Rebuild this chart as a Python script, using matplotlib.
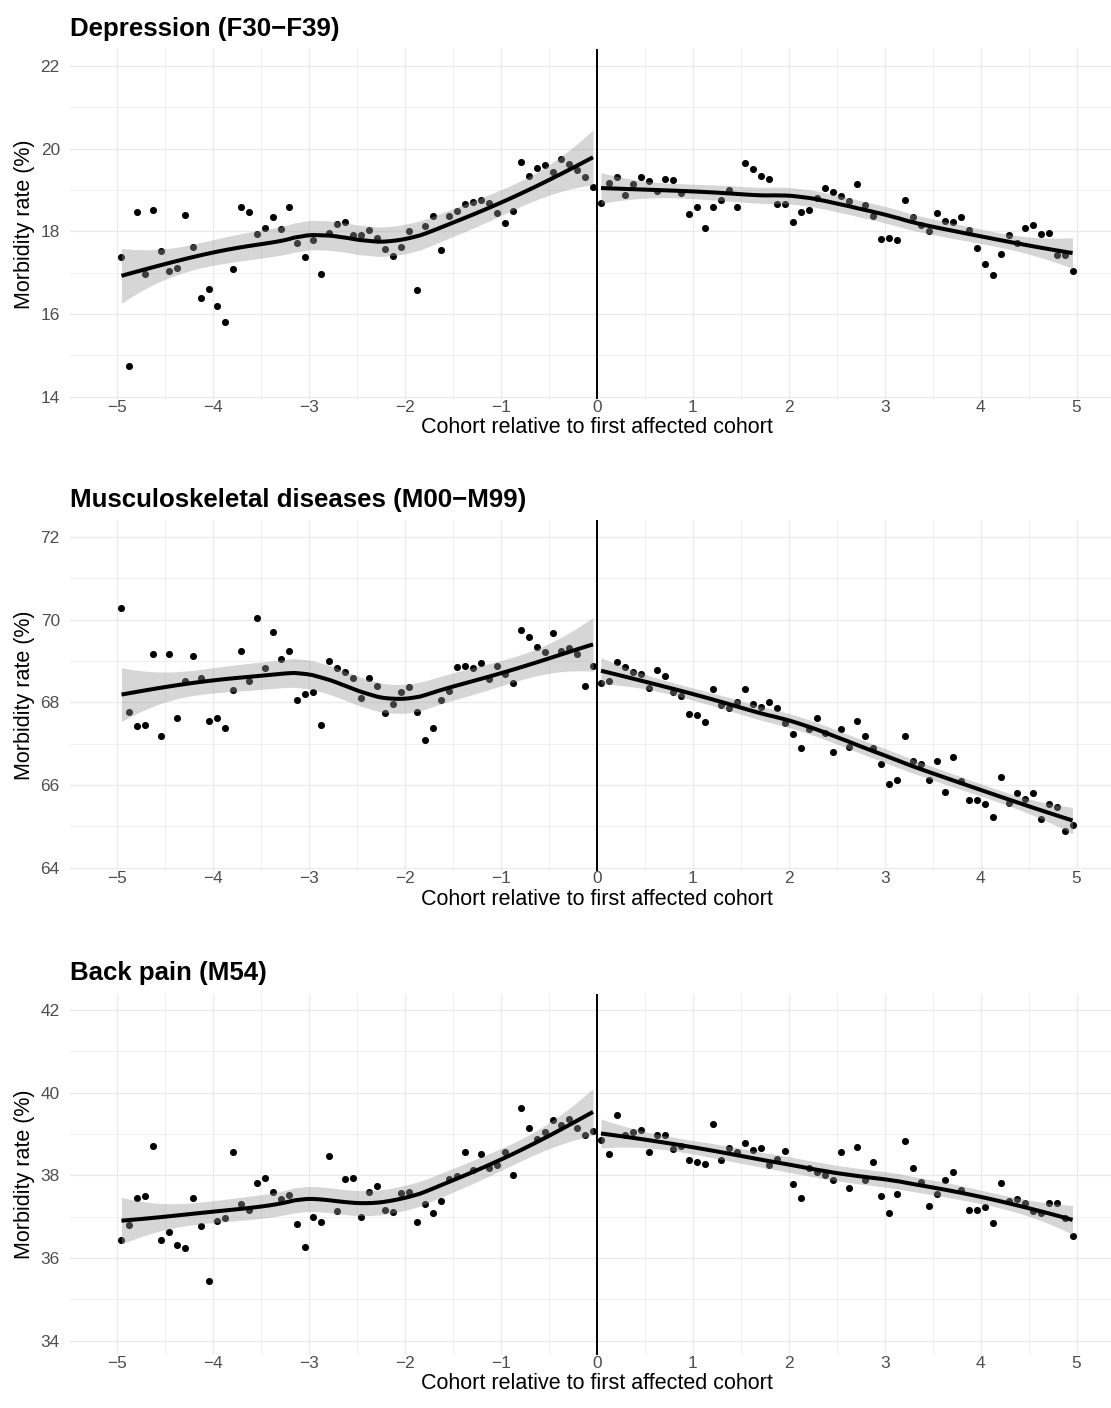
import numpy as np
import matplotlib
matplotlib.use("Agg")
import matplotlib.pyplot as plt

plt.rcParams['font.family'] = ['Liberation Sans', 'DejaVu Sans']

# cohort position (in years) of each monthly birth cohort, centred in its month
month_idx = np.arange(-60, 60)
cohort = (month_idx + 0.5) / 12

titles = ["Depression (F30\u2212F39)",
          "Musculoskeletal diseases (M00\u2212M99)",
          "Back pain (M54)"]

depression = [
    17.37, 14.74, 18.48, 16.97, 18.51, 17.52, 17.04, 17.12, 18.40, 17.62,
    16.40, 16.62, 16.19, 15.82, 17.10, 18.60, 18.48, 17.94, 18.09, 18.36,
    18.06, 18.60, 17.71, 17.38, 17.79, 16.98, 17.96, 18.17, 18.22, 17.91,
    17.92, 18.04, 17.84, 17.58, 17.40, 17.62, 18.01, 16.58, 18.12, 18.38,
    17.54, 18.37, 18.49, 18.67, 18.70, 18.75, 18.68, 18.44, 18.20, 18.50,
    19.68, 19.35, 19.53, 19.60, 19.43, 19.76, 19.64, 19.48, 19.31, 19.07,
    18.68, 19.17, 19.31, 18.87, 19.14, 19.31, 19.23, 18.98, 19.27, 19.25,
    18.92, 18.43, 18.58, 18.09, 18.58, 18.75, 19.01, 18.60, 19.65, 19.50,
    19.33, 19.28, 18.67, 18.67, 18.24, 18.46, 18.52, 18.80, 19.05, 18.96,
    18.85, 18.74, 19.14, 18.65, 18.38, 17.81, 17.84, 17.79, 18.77, 18.34,
    18.16, 18.02, 18.45, 18.25, 18.23, 18.34, 18.04, 17.60, 17.22, 16.95,
    17.46, 17.92, 17.73, 18.08, 18.15, 17.93, 17.96, 17.42, 17.43, 17.04,
]

musculoskeletal = [
    70.27, 67.77, 67.42, 67.46, 69.17, 67.18, 69.18, 67.62, 68.51, 69.11,
    68.58, 67.54, 67.63, 67.37, 68.29, 69.25, 68.51, 70.03, 68.82, 69.70,
    69.05, 69.24, 68.05, 68.19, 68.25, 67.46, 69.01, 68.84, 68.73, 68.59,
    68.10, 68.60, 68.40, 67.75, 67.97, 68.26, 68.36, 67.77, 67.08, 67.38,
    68.05, 68.27, 68.86, 68.89, 68.84, 68.96, 68.56, 68.89, 68.69, 68.47,
    69.76, 69.58, 69.34, 69.22, 69.68, 69.25, 69.32, 69.16, 68.39, 68.89,
    68.47, 68.52, 68.97, 68.85, 68.73, 68.68, 68.35, 68.79, 68.63, 68.25,
    68.16, 67.72, 67.69, 67.52, 68.32, 67.93, 67.87, 68.00, 68.33, 67.96,
    67.89, 68.02, 67.87, 67.49, 67.24, 66.89, 67.35, 67.62, 67.25, 66.79,
    67.35, 66.93, 67.55, 67.19, 66.89, 66.51, 66.03, 66.13, 67.18, 66.58,
    66.51, 66.13, 66.58, 65.84, 66.68, 66.09, 65.65, 65.63, 65.53, 65.22,
    66.20, 65.57, 65.80, 65.67, 65.81, 65.17, 65.55, 65.47, 64.89, 65.03,
]

back_pain = [
    36.45, 36.79, 37.46, 37.50, 38.70, 36.43, 36.64, 36.32, 36.25, 37.45,
    36.77, 35.44, 36.91, 36.96, 38.57, 37.31, 37.17, 37.81, 37.94, 37.60,
    37.43, 37.53, 36.82, 36.28, 36.99, 36.88, 38.47, 37.14, 37.91, 37.94,
    37.00, 37.60, 37.75, 37.17, 37.12, 37.58, 37.60, 36.88, 37.31, 37.09,
    37.38, 37.92, 37.98, 38.57, 38.12, 38.52, 38.19, 38.25, 38.56, 38.01,
    39.63, 39.15, 38.89, 39.05, 39.33, 39.23, 39.37, 39.15, 38.98, 39.08,
    38.86, 38.53, 39.47, 38.99, 39.06, 39.11, 38.57, 38.99, 38.99, 38.65,
    38.71, 38.37, 38.33, 38.28, 39.25, 38.37, 38.66, 38.57, 38.79, 38.62,
    38.66, 38.26, 38.40, 38.59, 37.79, 37.45, 38.17, 38.09, 38.00, 37.89,
    38.57, 37.70, 38.68, 37.89, 38.33, 37.51, 37.08, 37.55, 38.83, 38.19,
    37.83, 37.27, 37.54, 37.90, 38.09, 37.64, 37.17, 37.17, 37.24, 36.86,
    37.82, 37.38, 37.44, 37.34, 37.13, 37.08, 37.34, 37.34, 36.98, 36.53,
]

series = [depression, musculoskeletal, back_pain]
y_breaks = [(14, 22), (64, 72), (34, 42)]
# lower end of each panel's visible range
y_bottom = [13.95, 63.93, 33.66]


def loess_hat(x, x0, span=0.75):
    """Rows of the local quadratic (tricube weighted) smoother at x0."""
    n = len(x)
    q = int(np.floor(n * span))
    rows = []
    for p in np.atleast_1d(x0):
        d = np.abs(x - p)
        h = np.sort(d)[q - 1]
        w = np.clip(1 - (d / h) ** 3, 0, None) ** 3
        X = np.column_stack([np.ones(n), x - p, (x - p) ** 2])
        XtW = X.T * w
        rows.append(np.linalg.solve(XtW @ X, XtW)[0])
    return np.array(rows)


def smooth(x, y, n_grid=80):
    L = loess_hat(x, x)
    resid = y - L @ y
    IL = np.eye(len(x)) - L
    M = IL.T @ IL
    d1 = np.trace(M)
    d2 = np.trace(M @ M)
    sigma = np.sqrt(np.sum(resid ** 2) / d1)
    df = d1 ** 2 / d2
    z = 1.959964
    t = z + (z ** 3 + z) / (4 * df) + (5 * z ** 5 + 16 * z ** 3 + 3 * z) / (96 * df ** 2)
    xs = np.linspace(x.min(), x.max(), n_grid)
    Lg = loess_hat(x, xs)
    fit = Lg @ y
    se = sigma * np.sqrt(np.sum(Lg ** 2, axis=1))
    return xs, fit, fit - t * se, fit + t * se


fig = plt.figure(figsize=(11.11, 14.08), dpi=100)
W, H = 1111, 1408
px_per_unit = 41.35
top_px = [49.5, 520.4, 993.5]
left_px, right_px = 69.5, 1124.5

for title, vals, (lo, hi), ybot, top in zip(titles, series, y_breaks, y_bottom, top_px):
    ytop = hi + 0.05 * (hi - lo)
    bot = top + (ytop - ybot) * px_per_unit
    ax = fig.add_axes([left_px / W, 1 - bot / H, (right_px - left_px) / W, (bot - top) / H])
    y = np.asarray(vals)
    ax.scatter(cohort, y, s=26, color='black', linewidths=0, zorder=2)

    for side in (cohort < 0, cohort > 0):
        xs, fit, low, up = smooth(cohort[side], y[side])
        ax.fill_between(xs, low, up, color='#999999', alpha=0.4, linewidth=0, zorder=3)
        ax.plot(xs, fit, color='black', linewidth=2.9, zorder=4, solid_capstyle='butt')

    ax.axvline(0, color='black', linewidth=1.4, zorder=5)

    ax.set_ylim(ybot, ytop)
    ax.set_xlim(-5.5, 5.5)
    ax.set_yticks(np.arange(lo, hi + 1, 2))
    ax.set_yticks(np.arange(lo + 1, hi, 2), minor=True)
    ax.set_xticks(np.arange(-5, 6))
    ax.set_xticks(np.arange(-4.5, 5, 1), minor=True)
    ax.set_xticklabels([f"{v}".replace("-", "\u2212") for v in range(-5, 6)])
    ax.grid(True, which='major', color='#EBEBEB', linewidth=1.0)
    ax.grid(True, which='minor', color='#EBEBEB', linewidth=0.55)
    ax.set_axisbelow(True)
    for s in ax.spines.values():
        s.set_visible(False)
    ax.tick_params(which='both', length=0, labelsize=12.4, labelcolor='#4D4D4D')
    ax.tick_params(axis='y', pad=7)
    ax.tick_params(axis='x', pad=0.5)
    ax.set_xlabel("Cohort relative to first affected cohort", fontsize=15.5, labelpad=2)
    ax.set_ylabel("Morbidity rate (%)", fontsize=15.5, labelpad=4)
    ax.set_title(title, fontsize=18.6, fontweight='bold', loc='left', pad=10)

fig.savefig("out.png", dpi=100)
